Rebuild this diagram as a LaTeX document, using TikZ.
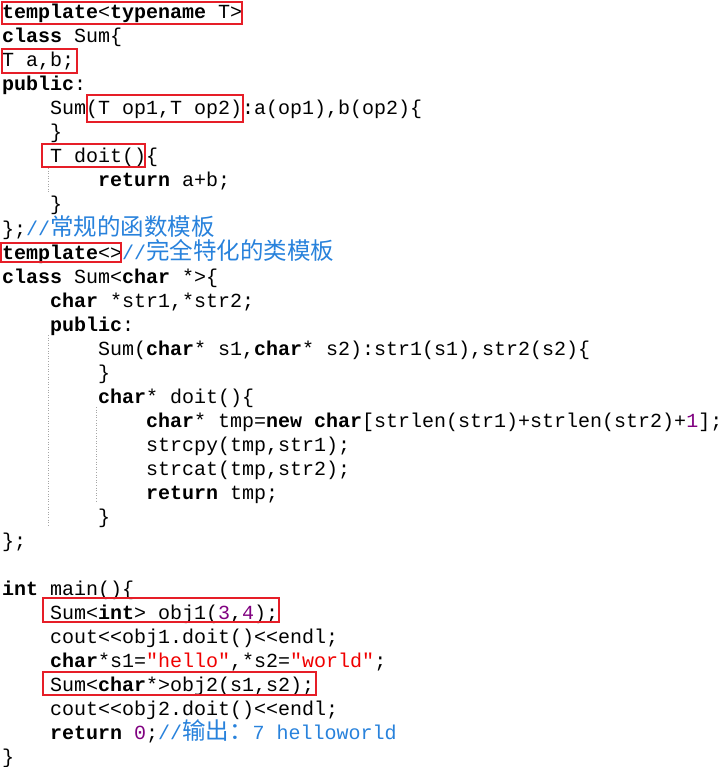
\documentclass[tikz,border=0pt]{standalone}
\usepackage{fontspec}
\setmainfont{Liberation Mono}[Ligatures=TeXOff]
\newfontfamily\cjk{Noto Sans CJK SC}
\definecolor{cmt}{RGB}{40,130,220}
\definecolor{nm}{RGB}{128,0,128}
\definecolor{st}{RGB}{240,0,0}
\definecolor{bx}{RGB}{230,30,40}
\newcommand\kw[1]{\textbf{#1}}
\newcommand\nm[1]{\textcolor{nm}{#1}}
\newcommand\st[1]{\textcolor{st}{#1}}
\newcommand\cm[1]{\textcolor{cmt}{#1}}
\newcommand\zh[1]{{\cjk\fontsize{23.5}{24}\selectfont #1}}
\begin{document}
\begin{tikzpicture}[x=1pt,y=-1pt,
  L/.style={anchor=base west,inner sep=0pt,font=\fontsize{20}{24}\selectfont},
  hl/.style={draw=bx,line width=2.8pt},
  guide/.style={draw=gray!70,dotted,line width=0.6pt}]
\useasboundingbox (0,0) rectangle (722,767);
\fill[white] (0,0) rectangle (722,767);
\def\Y#1{19+24*(#1-1)}
\node[L] (l1) at (2,{\Y1}) {\kw{template}<\kw{typename} T>};
\node[L] (l2) at (2,{\Y2}) {\kw{class} Sum\{};
\node[L] (l3) at (2,{\Y3}) {T a,b;};
\node[L] (l4) at (2,{\Y4}) {\kw{public}:};
\node[L] (l5) at (50,{\Y5}) {Sum(T op1,T op2):a(op1),b(op2)\{};
\node[L] (l6) at (50,{\Y6}) {\}};
\node[L] (l7) at (50,{\Y7}) {T doit()\{};
\node[L] (l8) at (98,{\Y8}) {\kw{return} a+b;};
\node[L] (l9) at (50,{\Y9}) {\}};
\node[L] (l10) at (2,{\Y{10}}) {\};\cm{//\zh{常规的函数模板}}};
\node[L] (l11) at (2,{\Y{11}}) {\kw{template}<>\cm{//\zh{完全特化的类模板}}};
\node[L] (l12) at (2,{\Y{12}}) {\kw{class} Sum<\kw{char} *>\{};
\node[L] (l13) at (50,{\Y{13}}) {\kw{char} *str1,*str2;};
\node[L] (l14) at (50,{\Y{14}}) {\kw{public}:};
\node[L] (l15) at (98,{\Y{15}}) {Sum(\kw{char}* s1,\kw{char}* s2):str1(s1),str2(s2)\{};
\node[L] (l16) at (98,{\Y{16}}) {\}};
\node[L] (l17) at (98,{\Y{17}}) {\kw{char}* doit()\{};
\node[L] (l18) at (146,{\Y{18}}) {\kw{char}* tmp=\kw{new} \kw{char}[strlen(str1)+strlen(str2)+\nm{1}];};
\node[L] (l19) at (146,{\Y{19}}) {strcpy(tmp,str1);};
\node[L] (l20) at (146,{\Y{20}}) {strcat(tmp,str2);};
\node[L] (l21) at (146,{\Y{21}}) {\kw{return} tmp;};
\node[L] (l22) at (98,{\Y{22}}) {\}};
\node[L] (l23) at (2,{\Y{23}}) {\};};
\node[L] (l25) at (2,{\Y{25}}) {\kw{int} main()\{};
\node[L] (l26) at (50,{\Y{26}}) {Sum<\kw{int}> obj1(\nm{3},\nm{4});};
\node[L] (l27) at (50,{\Y{27}}) {cout<\kern0pt<obj1.doit()<\kern0pt<endl;};
\node[L] (l28) at (50,{\Y{28}}) {\kw{char}*s1=\st{"hello"},*s2=\st{"world"};};
\node[L] (l29) at (50,{\Y{29}}) {Sum<\kw{char}*>obj2(s1,s2);};
\node[L] (l30) at (50,{\Y{30}}) {cout<\kern0pt<obj2.doit()<\kern0pt<endl;};
\node[L] (l31) at (50,{\Y{31}}) {\kw{return} \nm{0};\cm{//\zh{输出：}7 helloworld}};
\node[L] (l32) at (2,{\Y{32}}) {\}};
% indent guides
\draw[guide] (48,168) -- (48,192);
\draw[guide] (48,335) -- (48,527);
\draw[guide] (96,407) -- (96,502);
% highlight boxes
\draw[hl] (2,2) rectangle (242,24);
\draw[hl] (2,49) rectangle (77,73);
\draw[hl] (87,95) rectangle (243,122);
\draw[hl] (42,144) rectangle (145,167);
\draw[hl] (1,243) rectangle (121,262);
\draw[hl] (43,598) rectangle (279,622);
\draw[hl] (43,672) rectangle (316,695);
\end{tikzpicture}
\end{document}
